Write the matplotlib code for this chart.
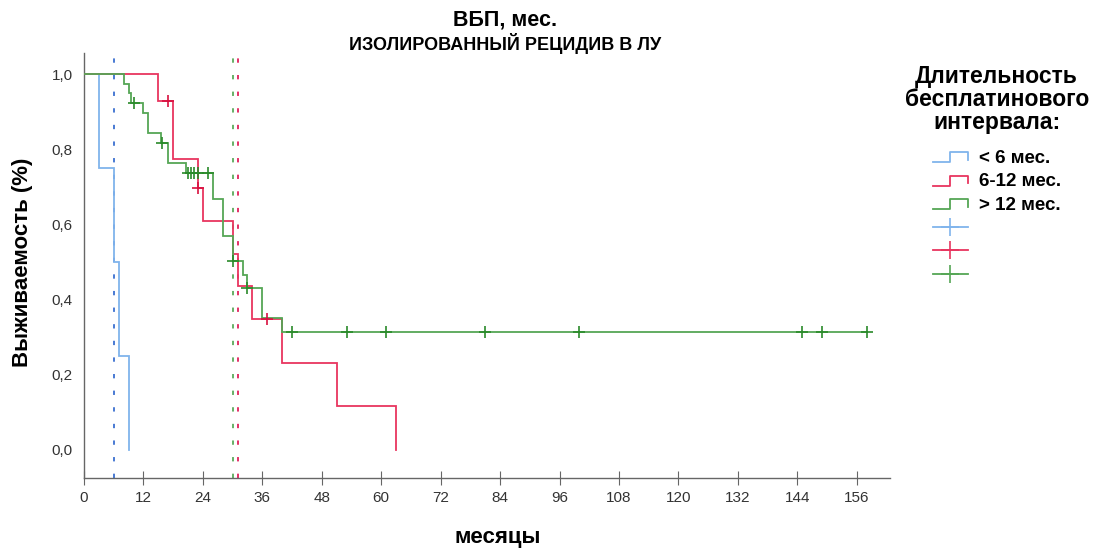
import matplotlib
matplotlib.use("Agg")
import matplotlib.pyplot as plt
from matplotlib.lines import Line2D
from matplotlib.legend_handler import HandlerBase

# ---------------- data ----------------
group_labels = ["< 6 мес.", "6-12 мес.", "> 12 мес."]
events_lt6 = [3, 6, 7, 9]
censors_lt6 = []
events_6_12 = [15, 18, 18, 23, 24, 30, 31, 34, 40, 51, 63]
censors_6_12 = [17, 23, 37]
events_gt12 = [8, 9, 9.5, 12, 13, 13, 15.5, 17, 17, 20.5, 26, 26, 28, 28, 28,
               30, 30, 32, 33, 36, 36, 40]
censors_gt12 = [10, 15.8, 21, 21.7, 22.3, 23, 25, 30, 33, 42, 53, 61, 81, 100,
                145, 149, 158]
medians = [6, 31, 30]
x_ticks = list(range(0, 157, 12))
y_ticks = [0.0, 0.2, 0.4, 0.6, 0.8, 1.0]
y_tick_labels = ["0,0", "0,2", "0,4", "0,6", "0,8", "1,0"]

title = "ВБП, мес."
subtitle = "ИЗОЛИРОВАННЫЙ РЕЦИДИВ В ЛУ"
x_label = "месяцы"
y_label = "Выживаемость (%)"
legend_title = "Длительность\nбесплатинового\nинтервала:"

line_colors = ["#80b4ec", "#e8355f", "#55a655"]
mark_colors = ["#4a8ad8", "#d81040", "#2a8a2a"]
median_colors = ["#3a6fd0", "#e0205a", "#5aaa5a"]

plt.rcParams["font.family"] = ["Liberation Sans", "DejaVu Sans"]


def km(events, censors):
    times = sorted(set(events) | set(censors))
    at_risk = len(events) + len(censors)
    s = 1.0
    xs, ys = [0.0], [1.0]
    cx, cy = [], []
    for t in times:
        d = events.count(t)
        c = censors.count(t)
        if d:
            new_s = s * (1 - d / at_risk)
            xs += [t, t]
            ys += [s, new_s]
            s = new_s
        if c:
            cx += [t] * c
            cy += [s] * c
        at_risk -= d + c
    if xs[-1] < times[-1]:
        xs.append(times[-1])
        ys.append(s)
    return xs, ys, cx, cy


fig = plt.figure(figsize=(11.04, 5.49), dpi=100)
ax = fig.add_axes([84 / 1104, 1 - 478 / 549, (890 - 84) / 1104, (478 - 53) / 549])

groups = [(events_lt6, censors_lt6), (events_6_12, censors_6_12), (events_gt12, censors_gt12)]
for i, (ev, ce) in enumerate(groups):
    xs, ys, cx, cy = km(ev, ce)
    ax.plot(xs, ys, color=line_colors[i], lw=1.3, solid_joinstyle="miter", zorder=3)
    if cx:
        ax.plot(cx, cy, ls="none", marker="+", ms=8, mew=1.2, color=mark_colors[i], zorder=4)

for i, m in enumerate(medians):
    ax.axvline(m, color=median_colors[i], lw=1.3, ls=(0, (2.4, 6.8)), zorder=2)

ax.set_xlim(0, 162.7)
ax.set_ylim(-0.0745, 1.056)
ax.set_xticks(x_ticks)
ax.set_xticklabels([str(v) for v in x_ticks], fontsize=11, color="#333333")
ax.set_yticks(y_ticks)
ax.set_yticklabels(y_tick_labels, fontsize=11, color="#333333")
ax.tick_params(axis="x", direction="inout", length=10, width=0.8, color="#666666", pad=4)
ax.tick_params(axis="y", length=0, pad=8)
for sp in ["top", "right"]:
    ax.spines[sp].set_visible(False)
for sp in ["left", "bottom"]:
    ax.spines[sp].set_color("#666666")
    ax.spines[sp].set_linewidth(1.0)

ax.set_xlabel(x_label, fontsize=16, fontweight="bold")
ax.xaxis.set_label_coords(0.513, -0.115)
ax.set_ylabel(y_label, fontsize=16, fontweight="bold")
ax.yaxis.set_label_coords(-0.063, 0.508)

fig.text(505 / 1104, 1 - 20 / 549, title, ha="center", va="center",
         fontsize=15.5, fontweight="bold")
fig.text(505 / 1104, 1 - 44 / 549, subtitle, ha="center", va="center",
         fontsize=13, fontweight="bold")


class StepHandler(HandlerBase):
    def create_artists(self, legend, orig_handle, xdescent, ydescent, width,
                       height, fontsize, trans):
        x0 = -xdescent
        y0 = -ydescent
        lo = y0 + 0.05 * height
        hi = y0 + 0.8 * height
        xs = [x0, x0 + 0.5 * width, x0 + 0.5 * width, x0 + width, x0 + width]
        ys = [lo, lo, hi, hi, lo + 0.25 * (hi - lo)]
        ln = Line2D(xs, ys, color=orig_handle.get_color(), lw=1.3, transform=trans)
        return [ln]


step_handles = [Line2D([], [], color=c) for c in line_colors]
cross_handles = [Line2D([], [], color=c, marker="+", ms=13, mew=1.2, lw=1.3) for c in line_colors]
handles = step_handles + cross_handles
labels = group_labels + ["", "", ""]
leg = ax.legend(handles, labels, loc="upper left", bbox_to_anchor=(897 / 1104, 1 - 58 / 549),
                bbox_transform=fig.transFigure, frameon=False, title=legend_title,
                prop={"weight": "bold", "size": 13.5}, handlelength=1.9,
                handletextpad=0.55, labelspacing=0.34, borderaxespad=0,
                handler_map={h: StepHandler() for h in step_handles})
t = leg.get_title()
t.set_fontsize(16.5)
t.set_fontweight("bold")
t.set_multialignment("center")
t.set_linespacing(1.0)
leg._legend_box.sep = 11

fig.savefig("out.png", dpi=100)
